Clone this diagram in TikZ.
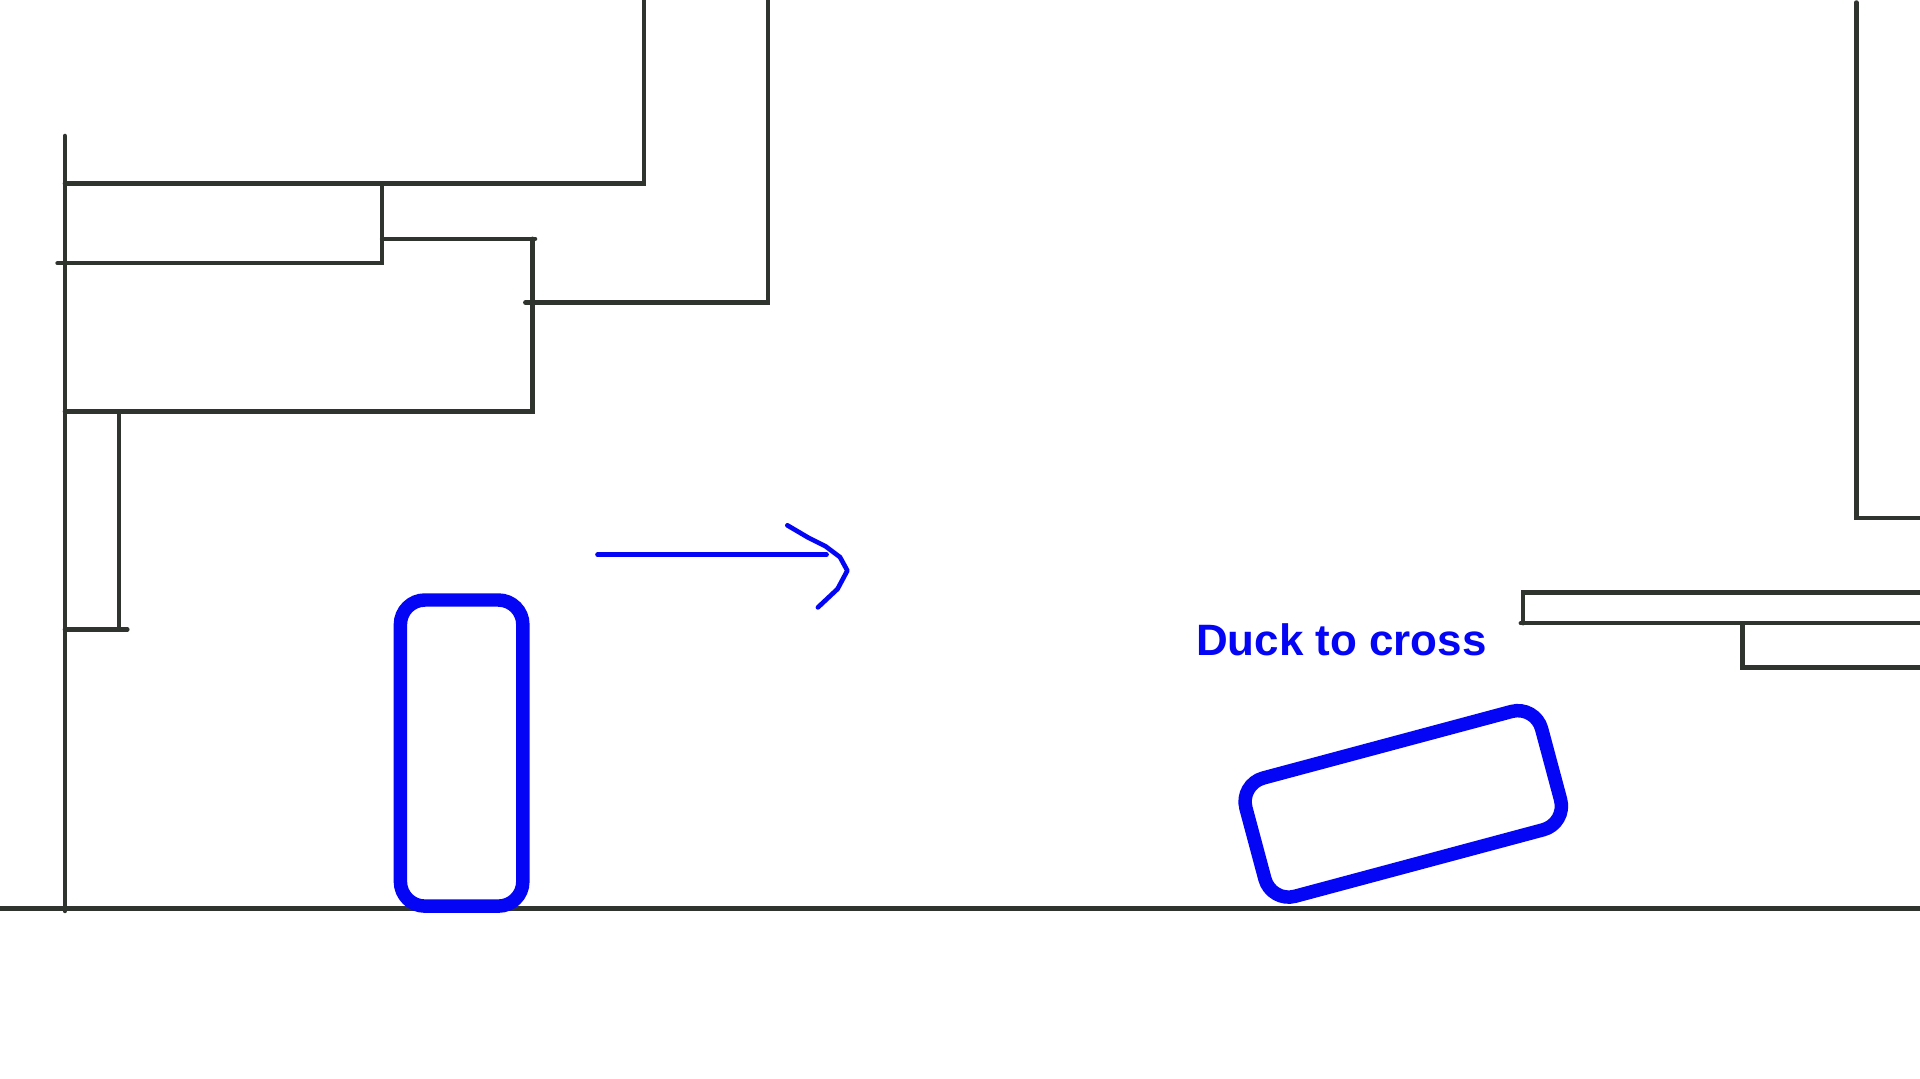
\documentclass[tikz,border=0pt]{standalone}
\usepackage{fontspec}
\setmainfont{Liberation Sans}
\definecolor{wallc}{RGB}{47,52,47}
\definecolor{markc}{RGB}{5,5,245}
\begin{document}
\begin{tikzpicture}[x=0.01cm,y=-0.01cm,
  wall/.style={draw=wallc,line width=0.036cm,line cap=round,line join=miter},
  bluebox/.style={draw=markc,line width=0.11cm,rounded corners=0.2cm},
  hand/.style={draw=markc,line width=0.038cm,line cap=round,line join=round}]
\useasboundingbox[fill=white] (0,0) rectangle (1568,881);
% ground
\draw[wall] (0,742) -- (1568,742);
% left structure
\draw[wall] (53,111) -- (53,744);
\draw[wall] (53,150) -- (526,150) -- (526,0);
\draw[wall] (312,150) -- (312,215) -- (47,215);
\draw[wall] (312,195) -- (437,195);
\draw[wall] (435,195) -- (435,336) -- (53,336);
\draw[wall] (429,247) -- (627,247) -- (627,0);
\draw[wall] (97,336) -- (97,514);
\draw[wall] (53,514) -- (104,514);
% right structure
\draw[wall] (1516,2) -- (1516,423) -- (1568,423);
\draw[wall] (1568,484) -- (1244,484) -- (1244,509);
\draw[wall] (1242,509) -- (1568,509);
\draw[wall] (1423,509) -- (1423,545) -- (1568,545);
% upright box
\draw[bluebox] (327,490) rectangle (427,740);
% tilted box
\begin{scope}[shift={(1146,656.5)},rotate=15]
  \draw[bluebox] (-125,-50) rectangle (125,50);
\end{scope}
% arrow
\coordinate (ashaft) at (488,453);
\coordinate (atip) at (675,453);
\draw[hand] (ashaft) -- (atip);
\draw[hand] (643,429) -- (660,439) -- (674,446) -- (686,455) -- (692,466) -- (684,481) -- (668,496);
% label
\node[text=markc,font=\fontsize{10.2pt}{12pt}\selectfont\bfseries,anchor=base,inner sep=0pt] (duck) at (1095.5,535) {Duck to cross};
\end{tikzpicture}
\end{document}
